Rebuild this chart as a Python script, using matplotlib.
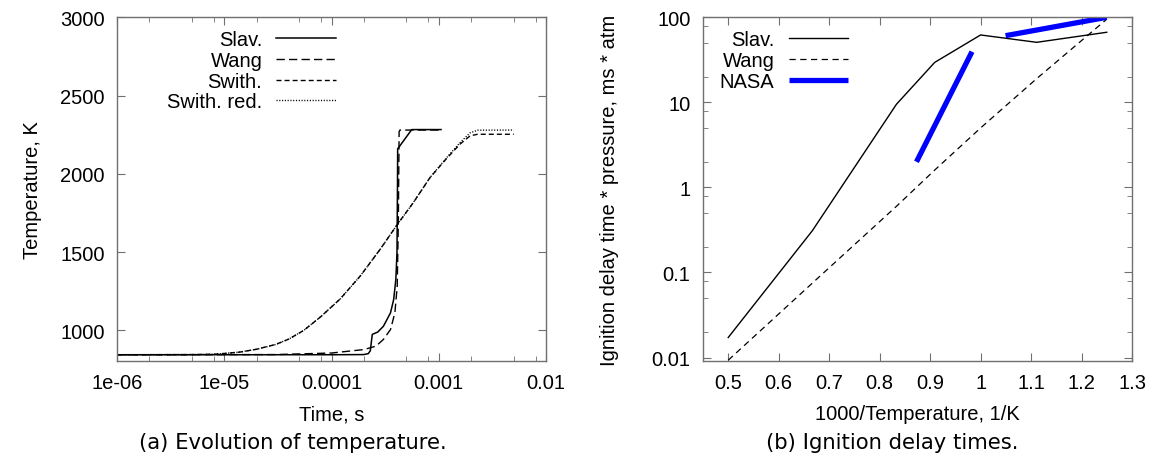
import numpy as np
import matplotlib
matplotlib.use("Agg")
import matplotlib.pyplot as plt
from matplotlib.ticker import FixedLocator, LogLocator, NullFormatter, FuncFormatter

plt.rcParams['font.family'] = ['Liberation Sans', 'DejaVu Sans']
plt.rcParams['font.size'] = 14.5

# (a) temperature evolution, time in s, temperature in K
slav_t = [1e-6, 1e-5, 1e-4, 2.0e-4, 2.2e-4, 2.3e-4, 2.4e-4, 2.7e-4, 3.05e-4, 3.55e-4,
          3.8e-4, 3.98e-4, 4.08e-4, 4.12e-4, 4.14e-4, 5.6e-4, 1.05e-3]
slav_T = [845, 845, 845, 846, 852, 870, 975, 990, 1027, 1113,
          1198, 1326, 1500, 1900, 2160, 2283, 2283]

wang_t = [1e-6, 3e-5, 1e-4, 2e-4, 2.6e-4, 3.05e-4, 3.55e-4, 3.9e-4, 4.1e-4, 4.2e-4,
          4.27e-4, 4.35e-4, 1.05e-3]
wang_T = [845, 846, 856, 878, 900, 943, 1006, 1113, 1283, 1700,
          2270, 2280, 2280]

swith_t = [1e-6, 5e-6, 8e-6, 1e-5, 1.4e-5, 2e-5, 3e-5, 4e-5, 5.5e-5, 7.85e-5, 1.2e-4,
           1.85e-4, 2.84e-4, 4.12e-4, 5.8e-4, 8.3e-4, 1.19e-3, 1.58e-3, 1.96e-3, 2.3e-3, 5e-3]
swith_T = [845, 846, 848, 853, 862, 880, 910, 945, 1000, 1085, 1200,
           1347, 1518, 1678, 1817, 1977, 2100, 2190, 2243, 2253, 2253]
swith_red_T = [845, 846, 848, 853, 862, 880, 910, 945, 1000, 1085, 1200,
               1347, 1518, 1678, 1817, 1977, 2105, 2200, 2262, 2279, 2280]

time_ticks = [1e-6, 1e-5, 1e-4, 1e-3, 1e-2]
time_labels = ["1e-06", "1e-05", "0.0001", "0.001", "0.01"]
temp_ticks = [1000, 1500, 2000, 2500, 3000]

# (b) ignition delay times, 1000/T in 1/K
inv_T = [0.5, 0.6667, 0.8333, 0.9091, 1.0, 1.1111, 1.25]
slav_tau = [0.0172, 0.31, 9.5, 29.5, 62, 50.8, 66.7]
wang_tau = [0.0093, 0.075, 0.6, 1.6, 5.0, 19, 95]
nasa1_x = [0.873, 0.983]
nasa1_tau = [2.0, 39.4]
nasa2_x = [1.0495, 1.25]
nasa2_tau = [60.8, 100]

frame_col = '#707070'

fig = plt.figure(figsize=(11.53, 4.64), dpi=100)
ax1 = fig.add_axes([117/1153, 1-362/464, 429/1153, 343.7/464])
ax2 = fig.add_axes([703/1153, 1-362/464, 429/1153, 343.7/464])

for ax in (ax1, ax2):
    for s in ax.spines.values():
        s.set_color(frame_col)
        s.set_linewidth(1.0)
    ax.tick_params(which='both', direction='in', top=True, right=True,
                   color=frame_col, labelcolor='black', pad=9)
    ax.tick_params(which='major', length=6)
    ax.tick_params(which='minor', length=3.5)

# ---- left panel
ax1.plot(slav_t, slav_T, color='black', lw=1.1, label='Slav.')
ax1.plot(wang_t, wang_T, color='black', lw=1.0, dashes=(6, 3), label='Wang')
ax1.plot(swith_t, swith_T, color='black', lw=1.0, dashes=(3.6, 2.2), label='Swith.')
ax1.plot(swith_t, swith_red_T, color='black', lw=1.0, dashes=(0.8, 1.2), label='Swith. red.')
ax1.set_xscale('log')
ax1.set_xlim(1e-6, 1e-2)
ax1.set_ylim(805, 3000)
ax1.xaxis.set_major_locator(FixedLocator(time_ticks))
ax1.set_xticklabels(time_labels)
ax1.xaxis.set_minor_locator(LogLocator(base=10, subs=(2, 5, 8)))
ax1.xaxis.set_minor_formatter(NullFormatter())
ax1.set_yticks(temp_ticks)
ax1.set_xlabel('Time, s')
ax1.set_ylabel('Temperature, K')
ax1.xaxis.set_label_coords(0.5, -0.154)
ax1.xaxis.label.set_va('center')
ax1.yaxis.set_label_coords(-0.198, 0.5)
ax1.yaxis.label.set_va('center')
leg1 = ax1.legend(loc='upper right', bbox_to_anchor=(0.51, 0.962), frameon=False,
                  markerfirst=False, handlelength=2.95, handletextpad=0.7,
                  labelspacing=0.08, borderpad=0, borderaxespad=0)

# ---- right panel
ax2.plot(inv_T, slav_tau, color='black', lw=1.0, label='Slav.')
ax2.plot(inv_T, wang_tau, color='black', lw=0.9, dashes=(5, 3.6), label='Wang')
ax2.plot(nasa1_x, nasa1_tau, color='#0000ff', lw=3.8, solid_capstyle='butt', label='NASA')
ax2.plot(nasa2_x, nasa2_tau, color='#0000ff', lw=3.8, solid_capstyle='butt')
ax2.set_yscale('log')
ax2.set_xlim(0.45, 1.3)
ax2.set_ylim(0.0091, 100)
ax2.set_xticks(np.arange(5, 14) / 10)
ax2.xaxis.set_major_formatter(FuncFormatter(lambda v, p: f"{v:g}"))
ax2.yaxis.set_major_locator(FixedLocator([0.01, 0.1, 1, 10, 100]))
ax2.yaxis.set_major_formatter(FuncFormatter(lambda v, p: f"{v:g}"))
ax2.yaxis.set_minor_locator(LogLocator(base=10, subs=(2, 5, 8)))
ax2.yaxis.set_minor_formatter(NullFormatter())
ax2.set_xlabel('1000/Temperature, 1/K')
ax2.set_ylabel('Ignition delay time * pressure, ms * atm')
ax2.xaxis.set_label_coords(0.5, -0.154)
ax2.xaxis.label.set_va('center')
ax2.yaxis.set_label_coords(-0.217, 0.5)
ax2.yaxis.label.set_va('center')
leg2 = ax2.legend(loc='upper right', bbox_to_anchor=(0.338, 0.962), frameon=False,
                  markerfirst=False, handlelength=2.95, handletextpad=0.7,
                  labelspacing=0.08, borderpad=0, borderaxespad=0)

# captions
fig.text(293/1153, 1-443/464, '(a) Evolution of temperature.', ha='center', va='center',
         family='DejaVu Sans', fontsize=15.2)
fig.text(892/1153, 1-443/464, '(b) Ignition delay times.', ha='center', va='center',
         family='DejaVu Sans', fontsize=15.2)

fig.savefig('out.png', dpi=100)
